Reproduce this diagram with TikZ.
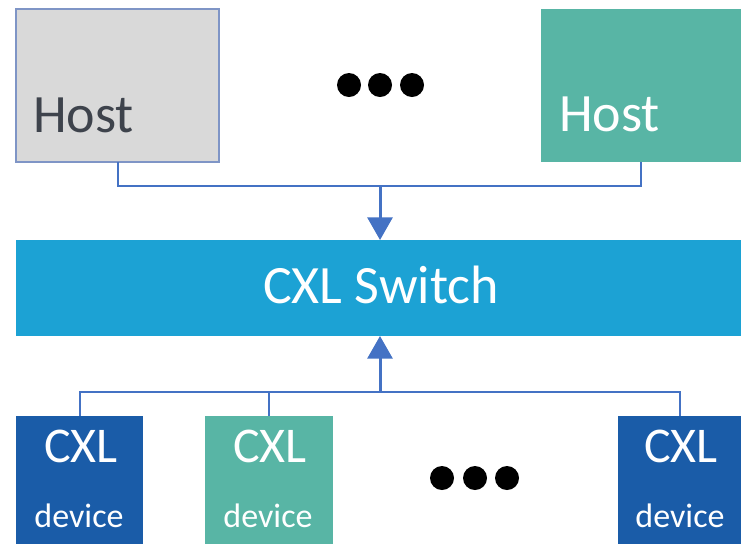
\documentclass[tikz,border=0pt]{standalone}
\usepackage{fontspec}
\setmainfont{Carlito}
\usetikzlibrary{arrows.meta,calc}
\definecolor{hostgray}{HTML}{D9D9D9}
\definecolor{hostborder}{HTML}{7F95C6}
\definecolor{tealc}{HTML}{58B5A5}
\definecolor{switchc}{HTML}{1CA2D4}
\definecolor{devblue}{HTML}{1A5CA8}
\definecolor{linec}{HTML}{4472C4}
\definecolor{darktext}{HTML}{3E434C}
\begin{document}
\begin{tikzpicture}[x=0.75pt,y=-0.75pt,
  box/.style={rectangle,inner sep=0pt,outer sep=0pt},
  hosttxt/.style={font=\fontsize{40.5}{40.5}\selectfont,inner sep=0pt,anchor=base west},
  cxltxt/.style={font=\fontsize{37.5}{37.5}\selectfont,inner sep=0pt,anchor=base,text=white},
  devtxt/.style={font=\fontsize{25.5}{25.5}\selectfont,inner sep=0pt,anchor=base,text=white},
  conn/.style={draw=linec,line width=1.5pt},
  arr/.style={draw=linec,line width=2.25pt,-{Triangle[length=17pt,width=18.75pt]}},
  dot/.style={fill=black}]
\useasboundingbox (0,0) rectangle (741,544);
\fill[white] (0,0) rectangle (741,544);
% hosts
\node[box,fill=hostgray,draw=hostborder,line width=1.1pt,minimum width=152.25pt,minimum height=114.75pt] (h1) at (117.5,85.5) {};
\node[box,fill=tealc,minimum width=150pt,minimum height=114.75pt] (h2) at (641,85.5) {};
\node[hosttxt,text=darktext] (h1t) at (33,132) {Host};
\node[hosttxt,text=white] (h2t) at (559,131) {Host};
% dots top
\fill[dot] (349,85) circle (9pt);
\fill[dot] (380,85) circle (9pt);
\fill[dot] (412,85) circle (9pt);
% switch
\node[box,fill=switchc,minimum width=543.75pt,minimum height=72pt] (sw) at (378.5,288) {};
\node[font=\fontsize{40.5}{40.5}\selectfont,inner sep=0pt,anchor=base,text=white] (swt) at (381,303) {CXL Switch};
% devices
\node[box,fill=devblue,minimum width=95.25pt,minimum height=96pt] (d1) at (79.5,480) {};
\node[box,fill=tealc,minimum width=96pt,minimum height=96pt] (d2) at (269,480) {};
\node[box,fill=devblue,minimum width=92.25pt,minimum height=96pt] (d3) at (679.5,480) {};
\node[cxltxt] (d1a) at (81,462) {CXL};
\node[devtxt] (d1b) at (79,527) {device};
\node[cxltxt] (d2a) at (270,462) {CXL};
\node[devtxt] (d2b) at (268,527) {device};
\node[cxltxt] (d3a) at (681,462) {CXL};
\node[devtxt] (d3b) at (680,527) {device};
% dots bottom
\fill[dot] (442,478) circle (9pt);
\fill[dot] (475,478) circle (9pt);
\fill[dot] (507,478) circle (9pt);
% connectors top
\coordinate (hj) at (380,186);
\draw[conn] (h1.south) -- (h1.south |- hj) -- (h2.south |- hj) -- (h2.south);
\draw[arr] (hj) -- (hj |- sw.north);
% connectors bottom
\coordinate (bj) at (380,392);
\draw[conn] (d1.north) -- (d1.north |- bj) -- (d3.north |- bj) -- (d3.north);
\draw[conn] (d2.north) -- (d2.north |- bj);
\draw[arr] (bj) -- (bj |- sw.south);
\end{tikzpicture}
\end{document}
